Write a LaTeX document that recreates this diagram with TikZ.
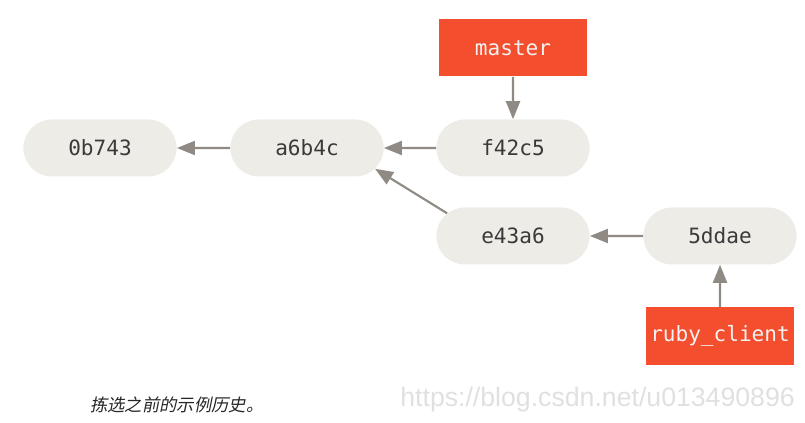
\documentclass[tikz,border=0pt]{standalone}
\usepackage{fontspec}
\setmonofont{DejaVu Sans Mono}
\newfontfamily\cjk[FakeSlant=0.2]{Noto Sans CJK SC}
\newfontfamily\wmfont{Liberation Sans}
\usetikzlibrary{arrows.meta,positioning,shapes.misc}
\definecolor{commitfill}{HTML}{EDECE6}
\definecolor{committext}{HTML}{3A3A3A}
\definecolor{arrowgray}{HTML}{8F8A83}
\definecolor{branchred}{HTML}{F34E2D}
\definecolor{branchtext}{HTML}{F2F2F2}

\begin{document}
\begin{tikzpicture}[x=0.75pt,y=-0.75pt,
    commit/.style={rounded rectangle, fill=commitfill, text=committext,
      minimum width=115pt, minimum height=42.75pt, inner sep=0pt,
      font=\fontsize{15.8}{18}\selectfont\ttfamily},
    branch/.style={rectangle, fill=branchred, text=branchtext,
      minimum width=111pt, minimum height=42.75pt, inner sep=0pt,
      font=\fontsize{15.8}{18}\selectfont\ttfamily},
    parent/.style={draw=arrowgray, line width=1.6pt,
      -{Triangle[length=13.5pt,width=10.5pt]}}]
    \useasboundingbox (0,0) rectangle (805,423);
    % Commits
    \node[commit] (c0b743) at (100,148) {0b743};
    \node[commit] (ca6b4c) at (307,148) {a6b4c};
    \node[commit] (cf42c5) at (513,148) {f42c5};
    \node[commit] (ce43a6) at (513,236) {e43a6};
    \node[commit] (c5ddae) at (720,236) {5ddae};
    % Branches
    \node[branch] (master) at (513,48) {master};
    \node[branch] (ruby) at (720,336) {ruby\_client};
    % History
    \draw[parent] (ca6b4c) -- (c0b743);
    \draw[parent] (cf42c5) -- (ca6b4c);
    \draw[parent] (ce43a6.161) -- (ca6b4c.-17);
    \draw[parent] (c5ddae) -- (ce43a6);
    \draw[parent] (master) -- (cf42c5);
    \draw[parent] (ruby) -- (c5ddae);
    % Caption
    \node[anchor=west, inner sep=0pt, text=black!85] (caption) at (90,405)
      {\cjk\fontsize{13}{15}\selectfont 拣选之前的示例历史。};
    \node[anchor=east, inner sep=0pt, text=black!12] (mark) at (795,400)
      {\wmfont\fontsize{20}{22}\selectfont https://blog.csdn.net/u013490896};
\end{tikzpicture}
\end{document}
